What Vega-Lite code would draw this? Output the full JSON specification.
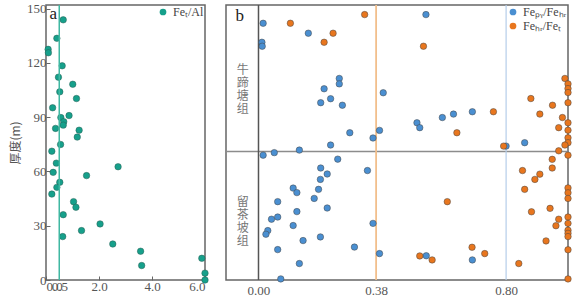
{
  "$schema": "https://vega.github.io/schema/vega-lite/v6.json",
  "padding": {"left": 8, "top": 1, "right": 0, "bottom": 0},
  "background": "white",
  "config": {
    "font": "Liberation Serif",
    "view": {"stroke": "#666", "strokeWidth": 1.5},
    "axis": {"grid": false, "domain": false, "labelFont": "Liberation Serif", "labelFontSize": 13, "labelColor": "#555", "tickColor": "#666", "tickSize": -4, "labelPadding": 4, "labelOverlap": false, "labelBound": false},
    "legend": {"labelFont": "Liberation Serif", "labelFontSize": 12, "labelColor": "#444"}
  },
  "datasets": {
    "left": [
      {"s": "Feₜ/Al", "x": 0.65, "y": 143.8}, {"s": "Feₜ/Al", "x": 0.41, "y": 133.6}, {"s": "Feₜ/Al", "x": 0.08, "y": 127.5}, {"s": "Feₜ/Al", "x": 0.09, "y": 125.6},
      {"s": "Feₜ/Al", "x": 0.61, "y": 118.4}, {"s": "Feₜ/Al", "x": 0.47, "y": 112.1}, {"s": "Feₜ/Al", "x": 1.01, "y": 108.2}, {"s": "Feₜ/Al", "x": 0.52, "y": 104.0},
      {"s": "Feₜ/Al", "x": 1.15, "y": 100.3}, {"s": "Feₜ/Al", "x": 0.25, "y": 95.2}, {"s": "Feₜ/Al", "x": 0.87, "y": 90.9}, {"s": "Feₜ/Al", "x": 0.56, "y": 89.8},
      {"s": "Feₜ/Al", "x": 0.67, "y": 87.5}, {"s": "Feₜ/Al", "x": 0.65, "y": 85.6}, {"s": "Feₜ/Al", "x": 0.36, "y": 83.8}, {"s": "Feₜ/Al", "x": 1.25, "y": 82.8},
      {"s": "Feₜ/Al", "x": 1.18, "y": 79.0}, {"s": "Feₜ/Al", "x": 0.55, "y": 74.9}, {"s": "Feₜ/Al", "x": 0.22, "y": 71.2}, {"s": "Feₜ/Al", "x": 0.39, "y": 64.6},
      {"s": "Feₜ/Al", "x": 0.27, "y": 59.5}, {"s": "Feₜ/Al", "x": 2.72, "y": 62.6}, {"s": "Feₜ/Al", "x": 1.53, "y": 57.7}, {"s": "Feₜ/Al", "x": 0.52, "y": 54.0},
      {"s": "Feₜ/Al", "x": 0.41, "y": 51.2}, {"s": "Feₜ/Al", "x": 0.22, "y": 47.5}, {"s": "Feₜ/Al", "x": 1.04, "y": 43.3}, {"s": "Feₜ/Al", "x": 1.13, "y": 40.2},
      {"s": "Feₜ/Al", "x": 0.65, "y": 36.1}, {"s": "Feₜ/Al", "x": 2.04, "y": 31.0}, {"s": "Feₜ/Al", "x": 1.34, "y": 27.3}, {"s": "Feₜ/Al", "x": 0.63, "y": 24.0},
      {"s": "Feₜ/Al", "x": 2.52, "y": 19.9}, {"s": "Feₜ/Al", "x": 3.57, "y": 15.9}, {"s": "Feₜ/Al", "x": 3.61, "y": 8.0}, {"s": "Feₜ/Al", "x": 5.88, "y": 12.0},
      {"s": "Feₜ/Al", "x": 6.0, "y": 3.8}, {"s": "Feₜ/Al", "x": 6.0, "y": 0.0}
    ],
    "right": [
      {"s": "Feₚᵧ/Feₕᵣ", "x": 0.015, "y": 141.9}, {"s": "Feₚᵧ/Feₕᵣ", "x": 0.161, "y": 136.4},
      {"s": "Feₚᵧ/Feₕᵣ", "x": 0.011, "y": 131.4}, {"s": "Feₚᵧ/Feₕᵣ", "x": 0.012, "y": 129.2},
      {"s": "Feₚᵧ/Feₕᵣ", "x": 0.261, "y": 111.4}, {"s": "Feₚᵧ/Feₕᵣ", "x": 0.261, "y": 108.4},
      {"s": "Feₚᵧ/Feₕᵣ", "x": 0.212, "y": 105.7}, {"s": "Feₚᵧ/Feₕᵣ", "x": 0.233, "y": 100.2},
      {"s": "Feₚᵧ/Feₕᵣ", "x": 0.201, "y": 98.0}, {"s": "Feₚᵧ/Feₕᵣ", "x": 0.271, "y": 96.6},
      {"s": "Feₚᵧ/Feₕᵣ", "x": 0.403, "y": 103.5}, {"s": "Feₚᵧ/Feₕᵣ", "x": 0.295, "y": 81.4},
      {"s": "Feₚᵧ/Feₕᵣ", "x": 0.391, "y": 82.7}, {"s": "Feₚᵧ/Feₕᵣ", "x": 0.370, "y": 78.5},
      {"s": "Feₚᵧ/Feₕᵣ", "x": 0.512, "y": 86.9}, {"s": "Feₚᵧ/Feₕᵣ", "x": 0.521, "y": 84.2},
      {"s": "Feₚᵧ/Feₕᵣ", "x": 0.594, "y": 89.8}, {"s": "Feₚᵧ/Feₕᵣ", "x": 0.630, "y": 91.7},
      {"s": "Feₚᵧ/Feₕᵣ", "x": 0.691, "y": 93.0}, {"s": "Feₚᵧ/Feₕᵣ", "x": 0.541, "y": 146.7},
      {"s": "Feₚᵧ/Feₕᵣ", "x": 0.860, "y": 75.9}, {"s": "Feₚᵧ/Feₕᵣ", "x": 0.800, "y": 74.0},
      {"s": "Feₚᵧ/Feₕᵣ", "x": 0.233, "y": 74.6}, {"s": "Feₚᵧ/Feₕᵣ", "x": 0.015, "y": 69.0},
      {"s": "Feₚᵧ/Feₕᵣ", "x": 0.051, "y": 70.4}, {"s": "Feₚᵧ/Feₕᵣ", "x": 0.132, "y": 71.8},
      {"s": "Feₚᵧ/Feₕᵣ", "x": 0.256, "y": 66.8}, {"s": "Feₚᵧ/Feₕᵣ", "x": 0.201, "y": 61.9},
      {"s": "Feₚᵧ/Feₕᵣ", "x": 0.222, "y": 58.6}, {"s": "Feₚᵧ/Feₕᵣ", "x": 0.200, "y": 55.6},
      {"s": "Feₚᵧ/Feₕᵣ", "x": 0.112, "y": 50.8}, {"s": "Feₚᵧ/Feₕᵣ", "x": 0.124, "y": 48.3},
      {"s": "Feₚᵧ/Feₕᵣ", "x": 0.194, "y": 50.1}, {"s": "Feₚᵧ/Feₕᵣ", "x": 0.180, "y": 45.1},
      {"s": "Feₚᵧ/Feₕᵣ", "x": 0.062, "y": 43.3}, {"s": "Feₚᵧ/Feₕᵣ", "x": 0.222, "y": 39.8},
      {"s": "Feₚᵧ/Feₕᵣ", "x": 0.124, "y": 37.8}, {"s": "Feₚᵧ/Feₕᵣ", "x": 0.062, "y": 34.8},
      {"s": "Feₚᵧ/Feₕᵣ", "x": 0.042, "y": 33.6}, {"s": "Feₚᵧ/Feₕᵣ", "x": 0.112, "y": 30.1},
      {"s": "Feₚᵧ/Feₕᵣ", "x": 0.030, "y": 27.3}, {"s": "Feₚᵧ/Feₕᵣ", "x": 0.024, "y": 25.3},
      {"s": "Feₚᵧ/Feₕᵣ", "x": 0.200, "y": 23.8}, {"s": "Feₚᵧ/Feₕᵣ", "x": 0.144, "y": 21.8},
      {"s": "Feₚᵧ/Feₕᵣ", "x": 0.062, "y": 16.8}, {"s": "Feₚᵧ/Feₕᵣ", "x": 0.132, "y": 9.1},
      {"s": "Feₚᵧ/Feₕᵣ", "x": 0.072, "y": 0.6}, {"s": "Feₚᵧ/Feₕᵣ", "x": 0.352, "y": 60.5},
      {"s": "Feₚᵧ/Feₕᵣ", "x": 0.370, "y": 31.3}, {"s": "Feₚᵧ/Feₕᵣ", "x": 0.310, "y": 18.2},
      {"s": "Feₚᵧ/Feₕᵣ", "x": 0.391, "y": 14.6}, {"s": "Feₚᵧ/Feₕᵣ", "x": 0.542, "y": 13.4},
      {"s": "Feₚᵧ/Feₕᵣ", "x": 0.691, "y": 11.1},
      {"s": "Feₕᵣ/Feₜ", "x": 0.103, "y": 141.9}, {"s": "Feₕᵣ/Feₜ", "x": 0.241, "y": 136.4},
      {"s": "Feₕᵣ/Feₜ", "x": 0.212, "y": 131.4}, {"s": "Feₕᵣ/Feₜ", "x": 0.343, "y": 146.7},
      {"s": "Feₕᵣ/Feₜ", "x": 0.533, "y": 129.2}, {"s": "Feₕᵣ/Feₜ", "x": 0.641, "y": 81.4},
      {"s": "Feₕᵣ/Feₜ", "x": 0.759, "y": 93.0}, {"s": "Feₕᵣ/Feₜ", "x": 0.880, "y": 100.3},
      {"s": "Feₕᵣ/Feₜ", "x": 0.909, "y": 91.7}, {"s": "Feₕᵣ/Feₜ", "x": 0.950, "y": 96.6},
      {"s": "Feₕᵣ/Feₜ", "x": 0.982, "y": 89.8}, {"s": "Feₕᵣ/Feₜ", "x": 0.970, "y": 84.2},
      {"s": "Feₕᵣ/Feₜ", "x": 0.990, "y": 111.4}, {"s": "Feₕᵣ/Feₜ", "x": 1.0, "y": 108.4},
      {"s": "Feₕᵣ/Feₜ", "x": 1.0, "y": 105.8}, {"s": "Feₕᵣ/Feₜ", "x": 1.0, "y": 103.6},
      {"s": "Feₕᵣ/Feₜ", "x": 1.0, "y": 98.0}, {"s": "Feₕᵣ/Feₜ", "x": 1.0, "y": 86.9},
      {"s": "Feₕᵣ/Feₜ", "x": 1.0, "y": 82.8}, {"s": "Feₕᵣ/Feₜ", "x": 1.0, "y": 78.6},
      {"s": "Feₕᵣ/Feₜ", "x": 1.0, "y": 75.9}, {"s": "Feₕᵣ/Feₜ", "x": 0.792, "y": 74.0},
      {"s": "Feₕᵣ/Feₜ", "x": 0.990, "y": 74.6}, {"s": "Feₕᵣ/Feₜ", "x": 0.970, "y": 71.4},
      {"s": "Feₕᵣ/Feₜ", "x": 1.0, "y": 69.0}, {"s": "Feₕᵣ/Feₜ", "x": 0.949, "y": 66.7},
      {"s": "Feₕᵣ/Feₜ", "x": 0.949, "y": 61.9}, {"s": "Feₕᵣ/Feₜ", "x": 0.853, "y": 60.5},
      {"s": "Feₕᵣ/Feₜ", "x": 0.909, "y": 58.5}, {"s": "Feₕᵣ/Feₜ", "x": 0.893, "y": 55.6},
      {"s": "Feₕᵣ/Feₜ", "x": 0.860, "y": 50.1}, {"s": "Feₕᵣ/Feₜ", "x": 1.0, "y": 50.9},
      {"s": "Feₕᵣ/Feₜ", "x": 1.0, "y": 48.2}, {"s": "Feₕᵣ/Feₜ", "x": 1.0, "y": 45.1},
      {"s": "Feₕᵣ/Feₜ", "x": 0.942, "y": 39.6}, {"s": "Feₕᵣ/Feₜ", "x": 0.882, "y": 37.7},
      {"s": "Feₕᵣ/Feₜ", "x": 1.0, "y": 34.8}, {"s": "Feₕᵣ/Feₜ", "x": 1.0, "y": 31.3},
      {"s": "Feₕᵣ/Feₜ", "x": 0.970, "y": 33.6}, {"s": "Feₕᵣ/Feₜ", "x": 0.961, "y": 30.0},
      {"s": "Feₕᵣ/Feₜ", "x": 1.0, "y": 27.5}, {"s": "Feₕᵣ/Feₜ", "x": 1.0, "y": 25.8},
      {"s": "Feₕᵣ/Feₜ", "x": 1.0, "y": 24.0}, {"s": "Feₕᵣ/Feₜ", "x": 0.929, "y": 21.6},
      {"s": "Feₕᵣ/Feₜ", "x": 1.0, "y": 16.7}, {"s": "Feₕᵣ/Feₜ", "x": 0.610, "y": 43.3},
      {"s": "Feₕᵣ/Feₜ", "x": 0.690, "y": 18.1}, {"s": "Feₕᵣ/Feₜ", "x": 0.731, "y": 14.6},
      {"s": "Feₕᵣ/Feₜ", "x": 0.841, "y": 9.1}, {"s": "Feₕᵣ/Feₜ", "x": 0.521, "y": 13.3},
      {"s": "Feₕᵣ/Feₜ", "x": 0.561, "y": 11.1}, {"s": "Feₕᵣ/Feₜ", "x": 1.0, "y": 0.6}
    ]
  },
  "hconcat": [
    {
      "width": 159,
      "height": 275,
      "layer": [
        {
          "data": {"name": "left"},
          "mark": {"type": "point", "filled": true, "size": 42, "opacity": 1, "stroke": "#2a5f55", "strokeWidth": 0.5},
          "encoding": {
            "x": {"field": "x", "type": "quantitative", "scale": {"domain": [0, 6], "nice": false, "zero": false},
                  "axis": {"values": [0, 0.5, 2, 4, 6], "format": ".1f", "title": null, "labelOverlap": false, "labelBound": false,
                           "labelExpr": "datum.value == 0.5 ? '\u00a0\u00a0\u00a0\u00a00.5' : datum.label"}},
            "y": {"field": "y", "type": "quantitative", "scale": {"domain": [0, 152], "nice": false},
                  "axis": {"values": [0, 30, 60, 90, 120, 150], "title": "厚度(m)", "titleFont": "Noto Sans CJK SC", "titleFontSize": 12, "titleFontWeight": "normal", "titleColor": "#555", "titlePadding": 4, "labelOverlap": false}},
            "color": {"field": "s", "type": "nominal", "scale": {"range": ["#16a08b"]},
                      "legend": {"orient": "top-right", "title": null, "offset": 0, "padding": 1, "symbolType": "circle", "symbolSize": 45, "symbolStrokeWidth": 0}}
          }
        },
        {
          "data": {"values": [{"v": 0.5}]},
          "mark": {"type": "rule", "color": "#40b8a2", "strokeWidth": 1.5},
          "encoding": {"x": {"field": "v", "type": "quantitative",
                  "axis": {"values": [0, 0.5, 2, 4, 6], "format": ".1f", "title": null, "labelOverlap": false, "labelBound": false,
                           "labelExpr": "datum.value == 0.5 ? '\u00a0\u00a0\u00a0\u00a00.5' : datum.label"}}}
        },
        {
          "data": {"values": [{"t": "a", "x": 0.13, "y": 144}]},
          "mark": {"type": "text", "fontSize": 17, "align": "left", "baseline": "alphabetic", "color": "#222", "font": "Liberation Serif"},
          "encoding": {
            "x": {"field": "x", "type": "quantitative",
                  "axis": {"values": [0, 0.5, 2, 4, 6], "format": ".1f", "title": null, "labelOverlap": false, "labelBound": false,
                           "labelExpr": "datum.value == 0.5 ? '\u00a0\u00a0\u00a0\u00a00.5' : datum.label"}},
            "y": {"field": "y", "type": "quantitative",
                  "axis": {"values": [0, 30, 60, 90, 120, 150], "title": "厚度(m)", "titleFont": "Noto Sans CJK SC", "titleFontSize": 12, "titleFontWeight": "normal", "titleColor": "#555", "titlePadding": 4, "labelOverlap": false}},
            "text": {"field": "t"}}
        }
      ]
    },
    {
      "width": 342,
      "height": 275,
      "layer": [
        {
          "data": {"values": [{"v": 71}]},
          "mark": {"type": "rule", "color": "#8c8c8c", "strokeWidth": 1.5},
          "encoding": {"y": {"field": "v", "type": "quantitative"}}
        },
        {
          "data": {"values": [{"v": 0}]},
          "mark": {"type": "rule", "color": "#555", "strokeWidth": 1.5},
          "encoding": {"x": {"field": "v", "type": "quantitative"}}
        },
        {
          "data": {"values": [{"v": 0.38}]},
          "mark": {"type": "rule", "color": "#f2bf8c", "strokeWidth": 1.8},
          "encoding": {"x": {"field": "v", "type": "quantitative"}}
        },
        {
          "data": {"values": [{"v": 0.8}]},
          "mark": {"type": "rule", "color": "#b5cdea", "strokeWidth": 1.2},
          "encoding": {"x": {"field": "v", "type": "quantitative"}}
        },
        {
          "data": {"name": "right"},
          "mark": {"type": "point", "filled": true, "size": 42, "opacity": 1, "stroke": "#444", "strokeWidth": 0.5},
          "encoding": {
            "x": {"field": "x", "type": "quantitative", "scale": {"domain": [-0.105, 1.0], "nice": false, "zero": false},
                  "axis": {"values": [0, 0.38, 0.8], "format": ".2f", "title": null, "ticks": false}},
            "y": {"field": "y", "type": "quantitative", "scale": {"domain": [0, 152], "nice": false},
                  "axis": {"labels": false, "ticks": false, "domain": false, "title": null}},
            "color": {"field": "s", "type": "nominal", "scale": {"domain": ["Feₚᵧ/Feₕᵣ", "Feₕᵣ/Feₜ"], "range": ["#4a8fd1", "#e8761e"]},
                      "legend": {"orient": "top-right", "title": null, "offset": 0, "padding": 1, "symbolType": "circle", "symbolSize": 45, "symbolStrokeWidth": 0, "rowPadding": 2}}
          }
        },
        {
          "data": {"values": [{"t": "b", "x": -0.074, "y": 143}]},
          "mark": {"type": "text", "fontSize": 17, "align": "left", "baseline": "alphabetic", "color": "#222", "font": "Liberation Serif"},
          "encoding": {"x": {"field": "x", "type": "quantitative"}, "y": {"field": "y", "type": "quantitative"}, "text": {"field": "t"}}
        },
        {
          "data": {"values": [{"t": "牛\n蹄\n塘\n组", "x": -0.051, "y": 116.1}, {"t": "留\n茶\n坡\n组", "x": -0.051, "y": 43.3}]},
          "mark": {"type": "text", "fontSize": 12, "lineBreak": "\n", "lineHeight": 13, "baseline": "middle", "align": "center", "color": "#777", "font": "Noto Sans CJK SC"},
          "encoding": {"x": {"field": "x", "type": "quantitative"}, "y": {"field": "y", "type": "quantitative"}, "text": {"field": "t"}}
        }
      ]
    }
  ],
  "spacing": 21,
  "bounds": "flush",
  "resolve": {"scale": {"x": "independent", "y": "independent", "color": "independent"}, "legend": {"color": "independent"}}
}
